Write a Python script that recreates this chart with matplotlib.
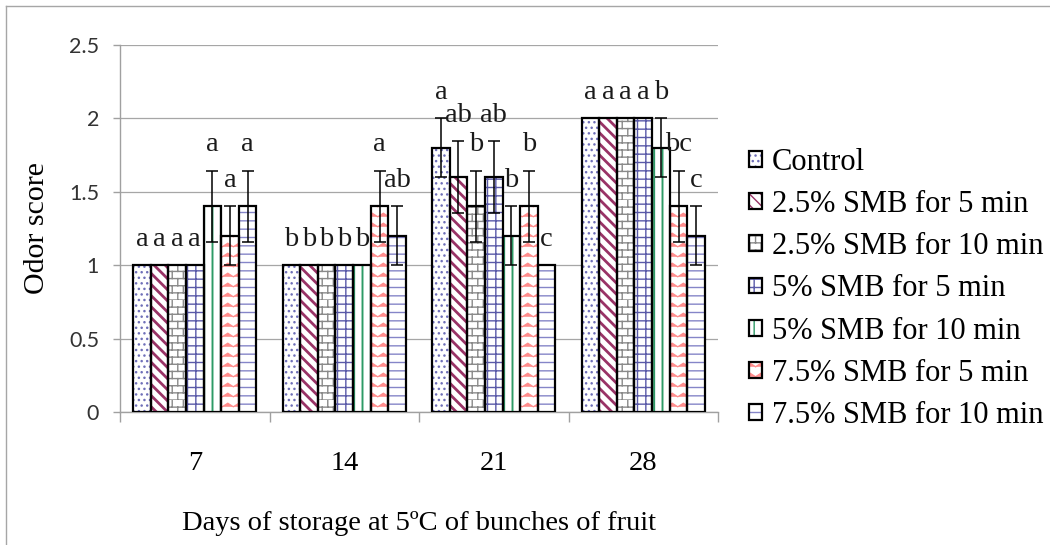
import numpy as np
import matplotlib
matplotlib.use("Agg")
import matplotlib.pyplot as plt
import matplotlib.hatch as mhatch
from matplotlib.path import Path
from matplotlib.lines import Line2D
from matplotlib.legend_handler import HandlerTuple

# ---------------- data ----------------
days = ['7', '14', '21', '28']
treatments = ['Control', '2.5% SMB for 5 min', '2.5% SMB for 10 min',
              '5% SMB for 5 min', '5% SMB for 10 min',
              '7.5% SMB for 5 min', '7.5% SMB for 10 min']

control = [1.0, 1.0, 1.8, 2.0]
smb25_5 = [1.0, 1.0, 1.6, 2.0]
smb25_10 = [1.0, 1.0, 1.4, 2.0]
smb5_5 = [1.0, 1.0, 1.6, 2.0]
smb5_10 = [1.4, 1.0, 1.2, 1.8]
smb75_5 = [1.2, 1.4, 1.4, 1.4]
smb75_10 = [1.4, 1.2, 1.0, 1.2]

err_control = [0.0, 0.0, 0.2, 0.0]
err_smb25_5 = [0.0, 0.0, 0.245, 0.0]
err_smb25_10 = [0.0, 0.0, 0.245, 0.0]
err_smb5_5 = [0.0, 0.0, 0.245, 0.0]
err_smb5_10 = [0.245, 0.0, 0.2, 0.2]
err_smb75_5 = [0.2, 0.245, 0.245, 0.245]
err_smb75_10 = [0.245, 0.2, 0.0, 0.2]

let_control = ['a', 'b', 'a', 'a']
let_smb25_5 = ['a', 'b', 'ab', 'a']
let_smb25_10 = ['a', 'b', 'b', 'a']
let_smb5_5 = ['a', 'b', 'ab', 'a']
let_smb5_10 = ['a', 'b', 'b', 'b']
let_smb75_5 = ['a', 'a', 'b', 'bc']
let_smb75_10 = ['a', 'ab', 'c', 'c']

series = [control, smb25_5, smb25_10, smb5_5, smb5_10, smb75_5, smb75_10]
errors = [err_control, err_smb25_5, err_smb25_10, err_smb5_5, err_smb5_10,
          err_smb75_5, err_smb75_10]
letters = [let_control, let_smb25_5, let_smb25_10, let_smb5_5, let_smb5_10,
           let_smb75_5, let_smb75_10]

yticks = [0, 0.5, 1, 1.5, 2, 2.5]
ytick_labels = ['0', '0.5', '1', '1.5', '2', '2.5']


# ---------------- custom hatches (brick and zigzag) ----------------
class BrickHatch(mhatch.HatchPatternBase):
    def __init__(self, hatch, density):
        self.rows = 14 if 'o' in hatch else 0
        self.cols = 9
        self.num_vertices = (self.rows * 2 + self.rows * self.cols * 2) if self.rows else 0

    def set_vertices_and_codes(self, vertices, codes):
        r, c = self.rows, self.cols
        h = 1.0 / r
        k = 0
        for i in range(r):
            y = i * h
            vertices[k] = (0.0, y)
            vertices[k + 1] = (1.0, y)
            k += 2
        for i in range(r):
            y0 = i * h
            off = 0.0 if i % 2 == 0 else 0.5 / c
            for j in range(c):
                xx = j / c + off
                vertices[k] = (xx, y0)
                vertices[k + 1] = (xx, y0 + h)
                k += 2
        codes[0::2] = Path.MOVETO
        codes[1::2] = Path.LINETO


class ZigZagHatch(mhatch.HatchPatternBase):
    def __init__(self, hatch, density):
        self.rows = 10 if '*' in hatch else 0
        self.teeth = 9
        self.npts = 2 * self.teeth + 1
        self.num_vertices = self.rows * self.npts

    def set_vertices_and_codes(self, vertices, codes):
        amp = 0.018
        k = 0
        for i in range(self.rows):
            y = (i + 0.5) / self.rows
            for j in range(self.npts):
                vertices[k] = (j / (2 * self.teeth), y + (amp if j % 2 else -amp))
                codes[k] = Path.MOVETO if j == 0 else Path.LINETO
                k += 1


mhatch._hatch_types = [mhatch.HorizontalHatch, mhatch.VerticalHatch,
                       mhatch.NorthEastHatch, mhatch.SouthEastHatch,
                       BrickHatch, mhatch.LargeCircles,
                       mhatch.SmallFilledCircles, ZigZagHatch]

hatches = ['...', '\\\\\\', 'o', '++', '||', '*', '--']
hatch_colors = ['#6f6fb8', '#993366', '#8a8a8a', '#5a5aa8', '#2e9a66', '#ff8c8c', '#8585c8']
hatch_lws = [1.0, 2.0, 1.0, 1.0, 1.4, 0.9, 1.0]

serif = 'Liberation Serif'
plt.rcParams['font.family'] = [serif, 'DejaVu Serif']

fig = plt.figure(figsize=(10.5, 5.45), dpi=100)
W, H = 1050, 545
ax = fig.add_axes([120 / W, 1 - 412 / H, (718 - 120) / W, (412 - 45) / H])

n = len(series)
bw = 0.118
xc = np.arange(len(days))

handles = []
for i, (vals, errs, lets) in enumerate(zip(series, errors, letters)):
    vals = np.asarray(vals)
    errs = np.asarray(errs)
    x = xc + (i - (n - 1) / 2) * bw
    hb = ax.bar(x, vals, bw, color='white', edgecolor=hatch_colors[i],
                linewidth=0, hatch=hatches[i], zorder=2)
    for p in hb:
        if hasattr(p, 'set_hatch_linewidth'):
            p.set_hatch_linewidth(hatch_lws[i])
    eb = ax.bar(x, vals, bw, facecolor='none', edgecolor='black',
                linewidth=1.6, zorder=3)
    handles.append((hb[0], eb[0]))
    m = errs > 0
    if m.any():
        ax.errorbar(x[m], vals[m], yerr=errs[m], fmt='none', ecolor='black',
                    elinewidth=1.1, capsize=4.5, capthick=1.1, zorder=4)
    for xi, v, e, t in zip(x, vals, errs, lets):
        ax.annotate(t, (xi, v + e), xytext=(0, 14), textcoords='offset points',
                    ha='center', va='baseline', fontsize=20.5, color='#1a1a1a',
                    zorder=5)

ax.set_xlim(-0.5, len(days) - 0.5)
ax.set_ylim(0, 2.5)
ax.set_yticks(yticks)
ax.set_yticklabels(ytick_labels, fontfamily='Lato', fontsize=15.5, color='#333333')
ax.set_xticks(xc)
ax.set_xticklabels(days, fontsize=20.5)
ax.set_xticks(np.arange(len(days) + 1) - 0.5, minor=True)
ax.tick_params(axis='x', which='major', length=0, pad=28)
ax.tick_params(axis='x', which='minor', length=7, color='#a0a0a0', width=1)
ax.tick_params(axis='y', length=5, color='#a0a0a0', width=1, pad=10)
ax.grid(axis='y', color='#a6a6a6', linewidth=0.9, zorder=0)
ax.set_axisbelow(True)
for s in ['top', 'right']:
    ax.spines[s].set_visible(False)
for s in ['left', 'bottom']:
    ax.spines[s].set_color('#a0a0a0')
    ax.spines[s].set_linewidth(1.0)

ax.set_xlabel('Days of storage at 5ºC of bunches of fruit', fontsize=20.5, labelpad=25)
ax.set_ylabel('Odor score', fontsize=21.5, labelpad=14)

leg = fig.legend(handles, treatments, handler_map={tuple: HandlerTuple(ndivide=1)},
                 loc='upper left', bbox_to_anchor=(749 / W, 1 - 148 / H),
                 bbox_transform=fig.transFigure, frameon=False, fontsize=22,
                 handlelength=0.42, handleheight=0.42, handletextpad=0.33,
                 labelspacing=0.43, borderpad=0, borderaxespad=0)

# outer frame of the picture
fig.add_artist(Line2D([6 / W, 1.0], [1 - 6 / H, 1 - 6 / H], transform=fig.transFigure,
                      color='#a6a6a6', linewidth=1.0))
fig.add_artist(Line2D([6 / W, 6 / W], [0.0, 1 - 6 / H], transform=fig.transFigure,
                      color='#a6a6a6', linewidth=1.0))

fig.savefig('out.png', dpi=100, facecolor='white')
